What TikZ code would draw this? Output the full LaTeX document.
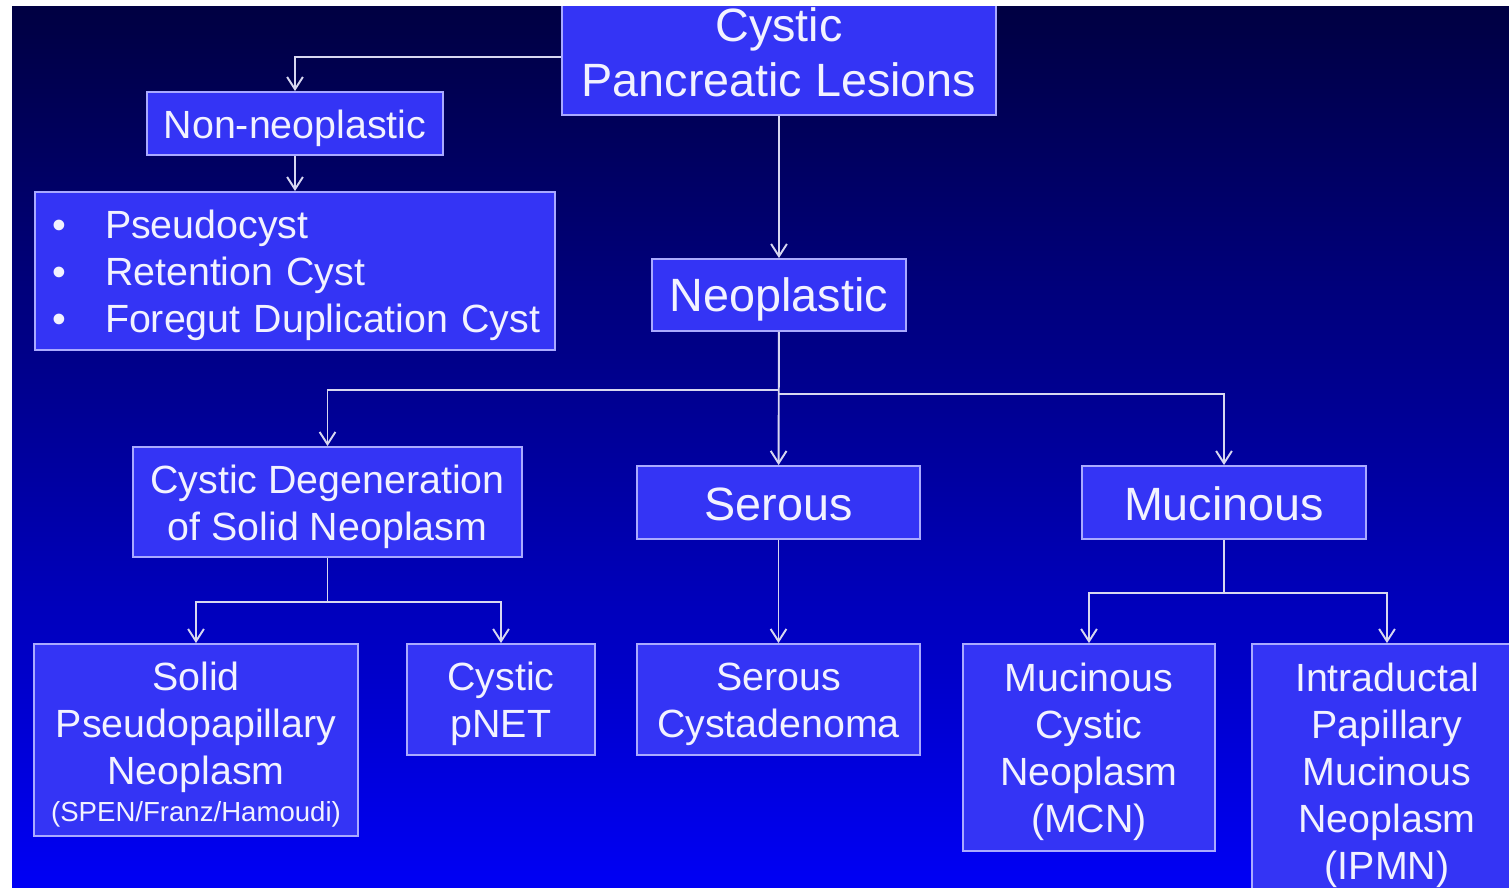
\documentclass[tikz,border=0pt]{standalone}
\usepackage{fontspec}
\setmainfont{Liberation Sans}
\usetikzlibrary{positioning, arrows.meta}

\definecolor{bgtop}{RGB}{0,0,66}
\definecolor{bgmid}{RGB}{0,0,184}
\definecolor{bgbot}{RGB}{0,0,245}
\definecolor{boxfill}{RGB}{52,52,245}
\definecolor{boxline}{RGB}{170,170,255}
\definecolor{linkcol}{RGB}{215,215,240}
\definecolor{txtcol}{RGB}{242,242,255}

\newcommand{\toplift}[1][0.95em]{\rule{0pt}{#1}}
\newcommand{\itembul}{\makebox[1.2cm][l]{\hspace{0.14cm}\textbullet}}

\begin{document}
\begin{tikzpicture}[x=0.02cm,y=-0.02cm,
   box/.style={draw=boxline,line width=1.1pt,fill=boxfill,text=txtcol,align=center,inner sep=0pt},
   big/.style={font=\fontsize{26.6}{31.2}\selectfont},
   mid/.style={font=\fontsize{22.4}{26.8}\selectfont},
   link/.style={draw=linkcol,line width=1.1pt,-{Straight Barb[length=7pt,width=9pt]}}]

   \useasboundingbox (0,0) rectangle (1509,888);
   \fill[white] (0,0) rectangle (1509,888);
   \shade[top color=bgtop,middle color=bgmid,bottom color=bgbot] (12,7) rectangle (1509,888);

   \begin{scope}
   \clip (12,7) rectangle (1509,888);

   \node[box,big,minimum width=8.68cm,minimum height=2.52cm] (root) at (779,52) {Cystic\\Pancreatic Lesions};
   \node[box,mid,minimum width=5.92cm,minimum height=1.26cm] (nonneo) at (295,123.5) {\toplift Non-neoplastic};
   \node[box,mid,align=left,text width=10cm,inner xsep=0.2cm,minimum height=3.16cm] (nonneolist) at (295,271)
      {\toplift\itembul Pseudocyst\\
       \itembul Retention Cyst\\
       \itembul Foregut Duplication Cyst};
   \node[box,big,minimum width=5.08cm,minimum height=1.44cm] (neo) at (779,295) {\toplift[0.93em]Neoplastic};

   \node[box,mid,minimum width=7.78cm,minimum height=2.2cm] (cdeg) at (327.5,502) {\toplift Cystic Degeneration\\of Solid Neoplasm};
   \node[box,big,minimum width=5.66cm,minimum height=1.46cm] (serous) at (778.5,502.5) {\toplift[0.8em]Serous};
   \node[box,big,minimum width=5.68cm,minimum height=1.46cm] (mucinous) at (1224,502.5) {\toplift[0.8em]Mucinous};

   \node[box,mid,minimum width=6.48cm,minimum height=3.84cm] (spn) at (196,740)
      {\toplift Solid\\Pseudopapillary\\Neoplasm\\[-6pt]{\fontsize{15.7}{18.8}\selectfont(SPEN/Franz/Hamoudi)}};
   \node[box,mid,minimum width=3.76cm,minimum height=2.22cm] (pnet) at (501,699.5) {\toplift Cystic\\pNET};
   \node[box,mid,minimum width=5.66cm,minimum height=2.22cm] (scyst) at (778.5,699.5) {\toplift Serous\\Cystadenoma};
   \node[box,mid,minimum width=5.04cm,minimum height=4.14cm] (mcn) at (1089,747.5) {\toplift Mucinous\\Cystic\\Neoplasm\\(MCN)};
   \node[box,mid,minimum width=5.4cm,minimum height=5.08cm] (ipmn) at (1387,771) {\toplift Intraductal\\Papillary\\Mucinous\\Neoplasm\\(IPMN)};

   \draw[link] (root.west) ++(0,5) -| (nonneo.north);
   \draw[link] (nonneo) -- (nonneolist);
   \draw[link] (root) -- (neo);
   \draw[link] (neo) -- (serous);
   \draw[link] (neo.south) ++(0,58) -| (cdeg.north);
   \draw[link] (neo.south) ++(0,62) -| (mucinous.north);
   \draw[link] (cdeg.south) ++(0,44) -| (spn.north);
   \draw[link] (cdeg.south) ++(0,44) -| (pnet.north);
   \draw[linkcol,line width=1.1pt] (cdeg) -- ++(0,99);
   \draw[link] (serous) -- (scyst);
   \draw[link] (mucinous.south) ++(0,53) -| (mcn.north);
   \draw[link] (mucinous.south) ++(0,53) -| (ipmn.north);
   \draw[linkcol,line width=1.1pt] (mucinous) -- ++(0,90);
   \end{scope}

\end{tikzpicture}
\end{document}
